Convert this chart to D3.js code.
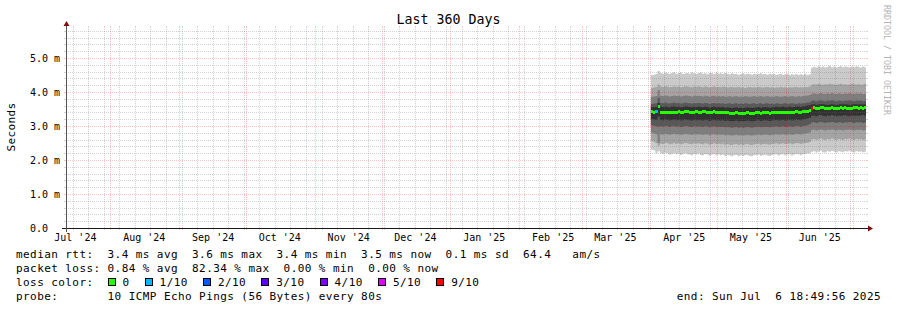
<!DOCTYPE html>
<html>
<head>
<meta charset="utf-8">
<script src="https://cdn.jsdelivr.net/npm/d3@7"></script>
<style>
  body { margin: 0; background: #fff; }
  svg text { font-family: "DejaVu Sans Mono", monospace; white-space: pre; }
</style>
</head>
<body>
<div class="chart"></div>
<script>
// daily values in ms, first day is Apr 1 2025
var median = [
  3.42, 3.41, 3.42, 3.57, 3.40, 3.41, 3.40, 3.41, 3.39, 3.40,
  3.41, 3.40, 3.42, 3.40, 3.41, 3.43, 3.42, 3.41, 3.40, 3.41,
  3.42, 3.41, 3.40, 3.42, 3.43, 3.41, 3.40, 3.41, 3.42, 3.40,
  3.41, 3.39, 3.40, 3.41, 3.39, 3.38, 3.37, 3.38, 3.39, 3.37,
  3.38, 3.37, 3.38, 3.39, 3.38, 3.37, 3.38, 3.39, 3.40, 3.38,
  3.39, 3.40, 3.39, 3.38, 3.39, 3.40, 3.41, 3.39, 3.40, 3.41,
  3.39, 3.40, 3.41, 3.39, 3.40, 3.42, 3.41, 3.40, 3.42, 3.43,
  3.44, 3.47,
  3.51, 3.53, 3.51, 3.52, 3.54, 3.53, 3.52, 3.51, 3.52, 3.53,
  3.52, 3.51, 3.52, 3.53, 3.52, 3.53, 3.52, 3.51, 3.52, 3.53,
  3.53, 3.52, 3.53, 3.52, 3.53
];

// sorted ping levels (p1 lowest ... p10 highest)
var p10 = [
  4.50, 4.51, 4.54, 4.62, 4.56, 4.54, 4.57, 4.55, 4.53, 4.56,
  4.58, 4.54, 4.55, 4.57, 4.53, 4.55, 4.56, 4.54, 4.58, 4.55,
  4.53, 4.56, 4.57, 4.54, 4.55, 4.52, 4.56, 4.55, 4.53, 4.57,
  4.54, 4.55, 4.53, 4.56, 4.54, 4.52, 4.55, 4.53, 4.54, 4.51,
  4.53, 4.55, 4.52, 4.54, 4.53, 4.51, 4.54, 4.52, 4.53, 4.55,
  4.52, 4.53, 4.51, 4.54, 4.52, 4.53, 4.50, 4.52, 4.54, 4.51,
  4.52, 4.53, 4.50, 4.52, 4.51, 4.53, 4.50, 4.52, 4.51, 4.53,
  4.50, 4.52,
  4.71, 4.74, 4.72, 4.76, 4.73, 4.75, 4.72, 4.74, 4.77, 4.73,
  4.75, 4.72, 4.74, 4.76, 4.73, 4.75, 4.74, 4.72, 4.75, 4.73,
  4.76, 4.74, 4.72, 4.75, 4.73
];
var p9 = [
  4.12, 4.13, 4.15, 4.22, 4.16, 4.15, 4.17, 4.16, 4.14, 4.15,
  4.17, 4.15, 4.16, 4.14, 4.15, 4.17, 4.16, 4.15, 4.14, 4.16,
  4.15, 4.17, 4.15, 4.14, 4.16, 4.15, 4.13, 4.15, 4.16, 4.14,
  4.15, 4.14, 4.16, 4.15, 4.13, 4.14, 4.15, 4.13, 4.14, 4.15,
  4.13, 4.14, 4.12, 4.14, 4.15, 4.13, 4.14, 4.13, 4.15, 4.14,
  4.13, 4.14, 4.15, 4.13, 4.14, 4.12, 4.14, 4.13, 4.15, 4.13,
  4.14, 4.12, 4.14, 4.13, 4.14, 4.15, 4.13, 4.14, 4.13, 4.15,
  4.14, 4.16,
  4.21, 4.23, 4.22, 4.24, 4.22, 4.21, 4.23, 4.22, 4.24, 4.23,
  4.22, 4.21, 4.23, 4.24, 4.22, 4.23, 4.21, 4.22, 4.24, 4.23,
  4.22, 4.23, 4.21, 4.22, 4.24
];
var p8 = [
  3.86, 3.87, 3.88, 4.05, 3.89, 3.88, 3.90, 3.89, 3.87, 3.88,
  3.90, 3.88, 3.89, 3.87, 3.88, 3.90, 3.89, 3.88, 3.87, 3.89,
  3.88, 3.89, 3.88, 3.87, 3.89, 3.88, 3.86, 3.88, 3.89, 3.87,
  3.88, 3.87, 3.88, 3.86, 3.87, 3.88, 3.86, 3.87, 3.88, 3.86,
  3.87, 3.86, 3.88, 3.87, 3.86, 3.87, 3.88, 3.86, 3.87, 3.88,
  3.86, 3.87, 3.88, 3.86, 3.87, 3.86, 3.88, 3.87, 3.86, 3.87,
  3.88, 3.86, 3.87, 3.88, 3.87, 3.86, 3.88, 3.87, 3.88, 3.89,
  3.90, 3.91,
  3.95, 3.96, 3.94, 3.95, 3.97, 3.95, 3.94, 3.96, 3.95, 3.97,
  3.95, 3.94, 3.96, 3.95, 3.94, 3.96, 3.95, 3.97, 3.95, 3.94,
  3.96, 3.95, 3.96, 3.94, 3.95
];
var p7 = [
  3.65, 3.66, 3.67, 3.82, 3.68, 3.67, 3.69, 3.67, 3.66, 3.68,
  3.69, 3.67, 3.68, 3.66, 3.67, 3.69, 3.68, 3.67, 3.66, 3.68,
  3.67, 3.68, 3.67, 3.66, 3.68, 3.67, 3.65, 3.67, 3.68, 3.66,
  3.67, 3.66, 3.67, 3.65, 3.66, 3.67, 3.65, 3.66, 3.67, 3.65,
  3.66, 3.65, 3.67, 3.66, 3.65, 3.66, 3.67, 3.65, 3.66, 3.67,
  3.65, 3.66, 3.67, 3.65, 3.66, 3.65, 3.67, 3.66, 3.65, 3.66,
  3.67, 3.65, 3.66, 3.67, 3.66, 3.65, 3.67, 3.66, 3.67, 3.68,
  3.69, 3.70,
  3.74, 3.75, 3.73, 3.75, 3.76, 3.74, 3.73, 3.75, 3.74, 3.76,
  3.74, 3.73, 3.75, 3.74, 3.73, 3.75, 3.74, 3.76, 3.74, 3.73,
  3.75, 3.74, 3.75, 3.73, 3.74
];
var p6 = [
  3.55, 3.55, 3.56, 3.68, 3.57, 3.56, 3.58, 3.56, 3.55, 3.57,
  3.58, 3.56, 3.57, 3.55, 3.56, 3.58, 3.57, 3.56, 3.55, 3.57,
  3.56, 3.57, 3.56, 3.55, 3.57, 3.56, 3.54, 3.56, 3.57, 3.55,
  3.56, 3.55, 3.56, 3.54, 3.55, 3.54, 3.53, 3.54, 3.55, 3.53,
  3.54, 3.53, 3.54, 3.55, 3.54, 3.53, 3.54, 3.55, 3.56, 3.54,
  3.55, 3.56, 3.55, 3.54, 3.55, 3.56, 3.57, 3.55, 3.56, 3.57,
  3.55, 3.56, 3.57, 3.55, 3.56, 3.58, 3.57, 3.56, 3.58, 3.59,
  3.60, 3.61,
  3.63, 3.64, 3.62, 3.63, 3.65, 3.64, 3.63, 3.62, 3.63, 3.64,
  3.63, 3.62, 3.63, 3.64, 3.63, 3.64, 3.63, 3.62, 3.63, 3.64,
  3.64, 3.63, 3.64, 3.63, 3.64
];
var p5 = [
  3.20, 3.19, 3.18, 3.28, 3.18, 3.17, 3.19, 3.18, 3.16, 3.18,
  3.19, 3.17, 3.18, 3.16, 3.17, 3.19, 3.18, 3.17, 3.16, 3.18,
  3.17, 3.18, 3.17, 3.16, 3.18, 3.17, 3.15, 3.17, 3.18, 3.16,
  3.17, 3.16, 3.17, 3.15, 3.16, 3.15, 3.14, 3.15, 3.16, 3.14,
  3.15, 3.14, 3.15, 3.16, 3.15, 3.14, 3.15, 3.16, 3.17, 3.15,
  3.16, 3.17, 3.16, 3.15, 3.16, 3.17, 3.18, 3.16, 3.17, 3.18,
  3.16, 3.17, 3.18, 3.16, 3.17, 3.19, 3.18, 3.17, 3.19, 3.20,
  3.22, 3.24,
  3.30, 3.31, 3.29, 3.31, 3.32, 3.30, 3.29, 3.31, 3.30, 3.32,
  3.30, 3.29, 3.31, 3.30, 3.31, 3.32, 3.30, 3.29, 3.31, 3.30,
  3.31, 3.30, 3.31, 3.32, 3.30
];
var p4 = [
  3.02, 3.01, 2.99, 2.98, 2.99, 2.98, 3.00, 2.99, 2.97, 2.99,
  3.00, 2.98, 2.99, 2.97, 2.98, 3.00, 2.99, 2.98, 2.97, 2.99,
  2.98, 2.99, 2.98, 2.97, 2.99, 2.98, 2.96, 2.98, 2.99, 2.97,
  2.98, 2.97, 2.98, 2.96, 2.97, 2.96, 2.95, 2.96, 2.97, 2.95,
  2.96, 2.95, 2.96, 2.97, 2.96, 2.95, 2.96, 2.97, 2.98, 2.96,
  2.97, 2.98, 2.97, 2.96, 2.97, 2.98, 2.99, 2.97, 2.98, 2.99,
  2.97, 2.98, 2.99, 2.97, 2.98, 3.00, 2.99, 2.98, 3.00, 3.01,
  3.02, 3.05,
  3.10, 3.11, 3.09, 3.10, 3.12, 3.10, 3.09, 3.11, 3.10, 3.12,
  3.10, 3.09, 3.11, 3.10, 3.09, 3.11, 3.10, 3.12, 3.10, 3.09,
  3.11, 3.10, 3.11, 3.09, 3.10
];
var p3 = [
  2.80, 2.79, 2.76, 2.50, 2.76, 2.75, 2.77, 2.76, 2.74, 2.76,
  2.77, 2.75, 2.76, 2.74, 2.75, 2.77, 2.76, 2.75, 2.74, 2.76,
  2.75, 2.76, 2.75, 2.74, 2.76, 2.75, 2.73, 2.75, 2.76, 2.74,
  2.75, 2.74, 2.75, 2.73, 2.74, 2.73, 2.72, 2.73, 2.74, 2.72,
  2.73, 2.72, 2.73, 2.74, 2.73, 2.72, 2.73, 2.74, 2.75, 2.73,
  2.74, 2.75, 2.74, 2.73, 2.74, 2.75, 2.76, 2.74, 2.75, 2.76,
  2.74, 2.75, 2.76, 2.74, 2.75, 2.77, 2.76, 2.75, 2.77, 2.78,
  2.79, 2.81,
  2.88, 2.89, 2.87, 2.88, 2.90, 2.88, 2.87, 2.89, 2.88, 2.90,
  2.88, 2.87, 2.89, 2.88, 2.87, 2.89, 2.88, 2.90, 2.88, 2.87,
  2.89, 2.88, 2.89, 2.87, 2.88
];
var p2 = [
  2.55, 2.54, 2.49, 2.42, 2.48, 2.47, 2.50, 2.49, 2.46, 2.48,
  2.50, 2.47, 2.49, 2.46, 2.48, 2.50, 2.49, 2.47, 2.46, 2.49,
  2.48, 2.49, 2.47, 2.46, 2.49, 2.48, 2.45, 2.47, 2.49, 2.46,
  2.48, 2.46, 2.48, 2.45, 2.47, 2.45, 2.44, 2.46, 2.47, 2.44,
  2.46, 2.44, 2.46, 2.47, 2.45, 2.44, 2.46, 2.47, 2.48, 2.45,
  2.47, 2.48, 2.46, 2.45, 2.47, 2.48, 2.49, 2.46, 2.48, 2.49,
  2.47, 2.48, 2.49, 2.46, 2.48, 2.50, 2.49, 2.47, 2.49, 2.50,
  2.51, 2.53,
  2.60, 2.62, 2.59, 2.61, 2.63, 2.60, 2.59, 2.62, 2.60, 2.63,
  2.61, 2.59, 2.62, 2.60, 2.59, 2.62, 2.61, 2.63, 2.60, 2.59,
  2.62, 2.60, 2.61, 2.59, 2.60
];
var p1 = [
  2.30, 2.29, 2.20, 2.26, 2.20, 2.18, 2.21, 2.19, 2.16, 2.18,
  2.20, 2.17, 2.19, 2.15, 2.18, 2.20, 2.17, 2.16, 2.14, 2.18,
  2.16, 2.19, 2.15, 2.14, 2.18, 2.16, 2.13, 2.16, 2.18, 2.14,
  2.17, 2.14, 2.16, 2.12, 2.15, 2.13, 2.11, 2.14, 2.15, 2.11,
  2.14, 2.12, 2.14, 2.15, 2.12, 2.11, 2.14, 2.15, 2.16, 2.12,
  2.15, 2.16, 2.13, 2.12, 2.15, 2.16, 2.17, 2.13, 2.16, 2.17,
  2.14, 2.16, 2.17, 2.13, 2.16, 2.18, 2.17, 2.14, 2.17, 2.18,
  2.19, 2.20,
  2.24, 2.26, 2.22, 2.25, 2.27, 2.23, 2.22, 2.26, 2.24, 2.27,
  2.25, 2.22, 2.26, 2.24, 2.23, 2.26, 2.25, 2.27, 2.24, 2.22,
  2.26, 2.24, 2.25, 2.23, 2.24
];

// days with packet loss (index into arrays) and pings lost out of 10
var lossDay = [2, 72];
var lossPings = [1, 9];

var lossLabels = ["0", "1/10", "2/10", "3/10", "4/10", "5/10", "9/10"];
var lossLevels = [0, 1, 2, 3, 4, 5, 9];
var lossColors = ["#26ff00", "#00b8ff", "#0059ff", "#5e00ff", "#7e00ff", "#dd00ff", "#ff0000"];

var yTicks = [0, 1, 2, 3, 4, 5];

var legendLines = [
  "median rtt:  3.4 ms avg  3.6 ms max  3.4 ms min  3.5 ms now  0.1 ms sd  64.4   am/s",
  "packet loss: 0.84 % avg  82.34 % max  0.00 % min  0.00 % now"
];
var probeText = "probe:       10 ICMP Echo Pings (56 Bytes) every 80s";
var endText = "end: Sun Jul  6 18:49:56 2025";

var svgWidth = 897;
var svgHeight = 310;

var margin = { top: 28, left: 66 };
var width = 800;
var height = 200;
var x0 = margin.left, x1 = margin.left + width;
var yBase = margin.top + height, yTop = margin.top;

var startTime = new Date(2024, 6, 11, 18, 49, 56);
var endTime = new Date(2025, 6, 6, 18, 49, 56);
var firstDay = new Date(2025, 3, 1);

var svg = d3.select(".chart")
  .append("svg")
  .attr("width", svgWidth)
  .attr("height", svgHeight);

svg.append("rect").attr("width", svgWidth).attr("height", svgHeight).attr("fill", "#fff");

var xScale = d3.scaleTime().domain([startTime, endTime]).range([x0, x1]);
var yScale = d3.scaleLinear().domain([0, height / 34]).range([yBase, yTop]);

// rows of per-day data
var rows = median.map(function (m, i) {
  return {
    t: d3.timeDay.offset(firstDay, i),
    t2: d3.min([d3.timeDay.offset(firstDay, i + 1), endTime]),
    med: m,
    p: [p1[i], p2[i], p3[i], p4[i], p5[i], p6[i], p7[i], p8[i], p9[i], p10[i]],
    loss: lossDay.indexOf(i) >= 0 ? lossPings[lossDay.indexOf(i)] : 0
  };
});
var stepRows = rows.concat([Object.assign({}, rows[rows.length - 1], { t: endTime })]);

// smoke bands, outer to inner
var half = 5;
var smoke = svg.append("g");
for (var b = 1; b <= half; b++) {
  var c = Math.floor(190 / half * (half - b)) + 50;
  var grey = d3.rgb(c, c, c).formatHex();
  (function (lo, hi) {
    smoke.append("path")
      .datum(stepRows)
      .attr("fill", grey)
      .attr("d", d3.area()
        .curve(d3.curveStepAfter)
        .x(function (d) { return xScale(d.t); })
        .y0(function (d) { return yScale(d.p[lo]); })
        .y1(function (d) { return yScale(d.p[hi]); }));
  })(b - 1, 10 - b);
}

// grid over the smoke
var minorCol = "rgba(110,110,110,0.3)";
var majorCol = "rgba(255,0,0,0.24)";
var grid = svg.append("g").attr("stroke-width", 1);

var weeks = d3.timeMonday.range(startTime, endTime);
var months = d3.timeMonth.range(startTime, endTime);

function vline(t, col) {
  var xx = Math.floor(xScale(t)) + 0.5;
  grid.append("line").attr("x1", xx).attr("x2", xx).attr("y1", yBase).attr("y2", yTop)
    .attr("stroke", col).attr("stroke-dasharray", "1,1");
  grid.append("line").attr("x1", xx).attr("x2", xx).attr("y1", yBase).attr("y2", yBase + 2).attr("stroke", col);
  grid.append("line").attr("x1", xx).attr("x2", xx).attr("y1", yTop - 2).attr("y2", yTop).attr("stroke", col);
}
weeks.forEach(function (t) { vline(t, minorCol); });
months.forEach(function (t) { vline(t, majorCol); });

d3.range(1, 30).forEach(function (k) {
  var col = k % 5 === 0 ? majorCol : minorCol;
  var yy = Math.round(yScale(k * 0.2)) + 0.5;
  grid.append("line").attr("x1", x0).attr("x2", x1).attr("y1", yy).attr("y2", yy)
    .attr("stroke", col).attr("stroke-dasharray", "1,1");
  grid.append("line").attr("x1", x0 - 2).attr("x2", x0).attr("y1", yy).attr("y2", yy).attr("stroke", col);
  grid.append("line").attr("x1", x1).attr("x2", x1 + 2).attr("y1", yy).attr("y2", yy).attr("stroke", col);
});

// median line coloured by loss
function lossColor(n) {
  var k = 0;
  lossLevels.forEach(function (lv, j) { if (n >= lv) k = j; });
  return lossColors[k];
}
svg.append("g").selectAll("rect")
  .data(rows)
  .enter()
  .append("rect")
  .attr("shape-rendering", "crispEdges")
  .attr("x", function (d) { return xScale(d.t); })
  .attr("width", function (d) { return xScale(d.t2) - xScale(d.t); })
  .attr("y", function (d) { return yScale(d.med) - 1.5; })
  .attr("height", 3)
  .attr("fill", function (d) { return lossColor(d.loss); });

// axes with arrows
svg.append("line").attr("x1", x0 - 4).attr("x2", x1 + 4).attr("y1", yBase + 0.5).attr("y2", yBase + 0.5)
  .attr("stroke", "#1a1a1a");
svg.append("line").attr("x1", x0 + 0.5).attr("x2", x0 + 0.5).attr("y1", yBase + 4).attr("y2", yTop - 4)
  .attr("stroke", "#555");
svg.append("path").attr("fill", "#7f1010")
  .attr("d", `M${x1 + 2},${yBase - 2.5}L${x1 + 2},${yBase + 3.5}L${x1 + 7},${yBase + 0.5}Z`);
svg.append("path").attr("fill", "#7f1010")
  .attr("d", `M${x0 - 2.5},${yTop - 2}L${x0 + 3.5},${yTop - 2}L${x0 + 0.5},${yTop - 7}Z`);

// y labels
svg.selectAll("text.ytick")
  .data(yTicks)
  .enter()
  .append("text")
  .attr("class", "ytick")
  .attr("x", 30)
  .attr("y", function (d) { return yScale(d) + 3.5; })
  .attr("font-size", "10px")
  .attr("fill", "#000")
  .text(function (d) { return d === 0 ? "0.0" : d.toFixed(1) + " m"; });

// x labels centred half a month after the month start
var monthFmt = d3.timeFormat("%b '%y");
var labelMonths = d3.timeMonth.range(d3.timeMonth.floor(startTime), endTime)
  .filter(function (m) { return d3.timeDay.offset(m, 15) < endTime; });
svg.selectAll("text.xtick")
  .data(labelMonths)
  .enter()
  .append("text")
  .attr("class", "xtick")
  .attr("x", function (d) { return xScale(d3.timeDay.offset(d, 15)); })
  .attr("y", 241)
  .attr("text-anchor", "middle")
  .attr("font-size", "10px")
  .attr("fill", "#000")
  .text(function (d) { return monthFmt(d); });

// title, unit label, watermark
svg.append("text")
  .attr("x", svgWidth / 2).attr("y", 23.5)
  .attr("text-anchor", "middle")
  .attr("font-size", "13.3px")
  .text("Last 360 Days");

svg.append("text")
  .attr("transform", "translate(15, 127) rotate(-90)")
  .attr("text-anchor", "middle")
  .attr("font-size", "11px")
  .attr("letter-spacing", "0.4px")
  .text("Seconds");

svg.append("text")
  .attr("transform", "translate(884, 5) rotate(90)")
  .attr("font-size", "8.3px")
  .attr("fill", "#b4b4b4")
  .text("RRDTOOL / TOBI OETIKER");

// legend
var legendFont = "11px", legendLS = "0.42px", charW = 7.08;
var rowY = [258.2, 272, 285.8, 299.6];

legendLines.forEach(function (s, i) {
  svg.append("text").attr("x", 16).attr("y", rowY[i])
    .attr("font-size", legendFont).attr("letter-spacing", legendLS)
    .text(s);
});

svg.append("text").attr("x", 16).attr("y", rowY[2])
  .attr("font-size", legendFont).attr("letter-spacing", legendLS)
  .text("loss color:");

var bx = 16 + 13 * charW - 0.5;
lossLabels.forEach(function (lab, i) {
  svg.append("rect")
    .attr("x", Math.round(bx) + 0.5).attr("y", rowY[2] - 7.3)
    .attr("width", 7).attr("height", 7)
    .attr("fill", lossColors[i]).attr("stroke", "#000").attr("stroke-width", 1);
  svg.append("text").attr("x", bx + 15).attr("y", rowY[2])
    .attr("font-size", legendFont).attr("letter-spacing", legendLS)
    .text(lab);
  bx = bx + 15 + lab.length * charW + 15;
});

svg.append("text").attr("x", 16).attr("y", rowY[3])
  .attr("font-size", legendFont).attr("letter-spacing", legendLS)
  .text(probeText);

svg.append("text").attr("x", 881).attr("y", rowY[3])
  .attr("text-anchor", "end")
  .attr("font-size", legendFont).attr("letter-spacing", legendLS)
  .text(endText);
</script>
</body>
</html>
